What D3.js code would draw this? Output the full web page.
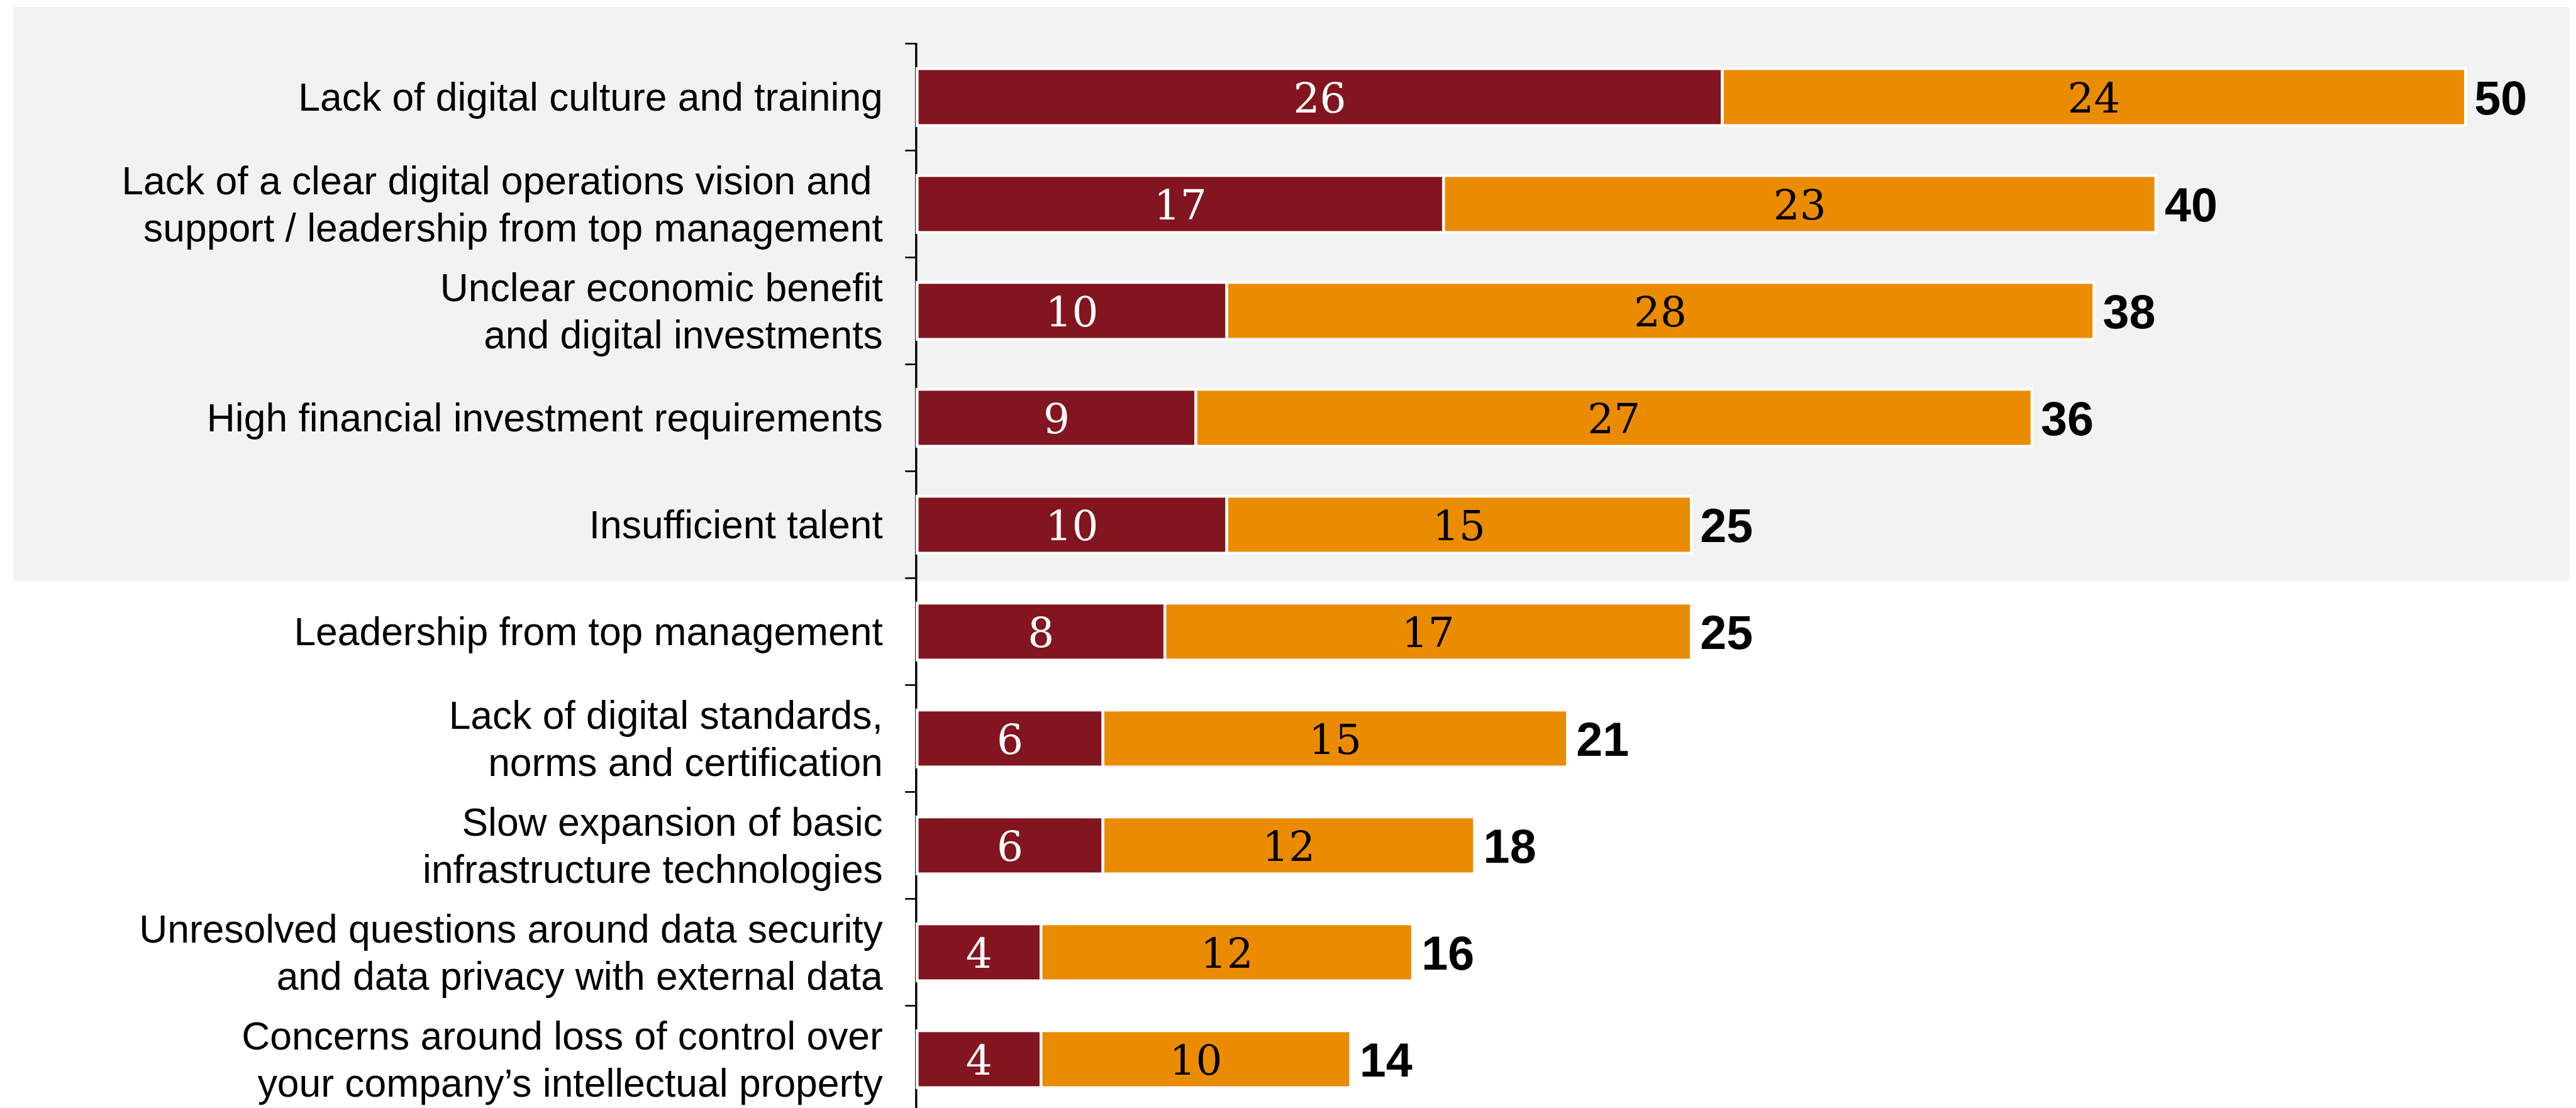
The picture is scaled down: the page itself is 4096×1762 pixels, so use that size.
<!DOCTYPE html>
<html>
<head>
<meta charset="utf-8">
<script src="https://cdn.jsdelivr.net/npm/d3@7"></script>
<style>
  html, body { margin: 0; padding: 0; background: #fff; }
  svg { display: block; }
</style>
</head>
<body>
<div id="chart"></div>
<script>
// Barriers to digital operations - stacked horizontal bars

const categories = [
  ['Lack of digital culture and training'],
  ['Lack of a clear digital operations vision and ', 'support / leadership from top management'],
  ['Unclear economic benefit', 'and digital investments'],
  ['High financial investment requirements'],
  ['Insufficient talent'],
  ['Leadership from top management'],
  ['Lack of digital standards,', 'norms and certification'],
  ['Slow expansion of basic', 'infrastructure technologies'],
  ['Unresolved questions around data security', 'and data privacy with external data'],
  ['Concerns around loss of control over', 'your company\u2019s intellectual property']
];
const seriesA = [26, 17, 10, 9, 10, 8, 6, 6, 4, 4];
const seriesB = [24, 23, 28, 27, 15, 17, 15, 12, 12, 10];
const totals = [50, 40, 38, 36, 25, 25, 21, 18, 16, 14];
const highlighted = 5; // first five rows sit on the grey panel

const W = 4096, H = 1762;
const colorA = '#82151f';
const colorB = '#eb8c00';

const svg = d3.select('#chart')
  .append('svg')
  .attr('width', W)
  .attr('height', H)
  .attr('viewBox', `0 0 ${W} ${H}`);

const keys = categories.map((d, i) => i);

const x = d3.scaleLinear()
  .domain([0, 50])
  .range([1458.3, 3920.3]);

const y = d3.scaleBand()
  .domain(keys)
  .range([69.4, 1769.4])
  .paddingInner(0.467)
  .paddingOuter(0.2335);

const step = y.step();
const gapHalf = (step - y.bandwidth()) / 2;
const bandTop = i => y(i) - gapHalf;

// grey panel behind the top rows
svg.append('rect')
  .attr('x', 21)
  .attr('y', 11)
  .attr('width', 4064)
  .attr('height', bandTop(highlighted) + 4 - 11)
  .attr('fill', '#f2f2f2');

// axis line + ticks at band edges
const axisX = x(0) - 1.5;
svg.append('line')
  .attr('x1', axisX).attr('x2', axisX)
  .attr('y1', bandTop(0) - 1.2).attr('y2', H)
  .attr('stroke', '#000')
  .attr('stroke-width', 3.4);

svg.selectAll('.tick')
  .data(keys)
  .enter()
  .append('line')
  .attr('class', 'tick')
  .attr('x1', axisX - 17.6).attr('x2', axisX)
  .attr('y1', d => bandTop(d)).attr('y2', d => bandTop(d))
  .attr('stroke', '#000')
  .attr('stroke-width', 2.6);

// stacked segments
const rows = keys.map(i => ({ i, a: seriesA[i], b: seriesB[i], total: totals[i] }));

svg.selectAll('.segA')
  .data(rows)
  .enter()
  .append('rect')
  .attr('class', 'segA')
  .attr('x', d => x(0))
  .attr('y', d => y(d.i))
  .attr('width', d => x(d.a) - x(0))
  .attr('height', y.bandwidth())
  .attr('fill', colorA)
  .attr('stroke', '#fff')
  .attr('stroke-width', 4.5);

svg.selectAll('.segB')
  .data(rows)
  .enter()
  .append('rect')
  .attr('class', 'segB')
  .attr('x', d => x(d.a))
  .attr('y', d => y(d.i))
  .attr('width', d => x(d.a + d.b) - x(d.a))
  .attr('height', y.bandwidth())
  .attr('fill', colorB)
  .attr('stroke', '#fff')
  .attr('stroke-width', 4.5);

// segment value labels
const segFont = "'DejaVu Serif', Georgia, serif";
svg.selectAll('.labA')
  .data(rows)
  .enter()
  .append('text')
  .attr('class', 'labA')
  .attr('x', d => (x(0) + x(d.a)) / 2)
  .attr('y', d => y(d.i) + y.bandwidth() / 2)
  .attr('dy', '0.37em')
  .attr('text-anchor', 'middle')
  .style('font-family', segFont)
  .style('font-size', '66px')
  .style('fill', '#fff')
  .text(d => d.a);

svg.selectAll('.labB')
  .data(rows)
  .enter()
  .append('text')
  .attr('class', 'labB')
  .attr('x', d => (x(d.a) + x(d.a + d.b)) / 2)
  .attr('y', d => y(d.i) + y.bandwidth() / 2)
  .attr('dy', '0.37em')
  .attr('text-anchor', 'middle')
  .style('font-family', segFont)
  .style('font-size', '66px')
  .style('fill', '#000')
  .text(d => d.b);

// totals at bar ends
svg.selectAll('.total')
  .data(rows)
  .enter()
  .append('text')
  .attr('class', 'total')
  .attr('x', d => x(d.total) + 14)
  .attr('y', d => y(d.i) + y.bandwidth() / 2)
  .attr('dy', '0.36em')
  .style('font-family', "'Liberation Sans', Arial, sans-serif")
  .style('font-size', '75.6px')
  .style('font-weight', 'bold')
  .style('fill', '#000')
  .text(d => d.total);

// category labels (one or two lines)
const lineH = 74.7;
const catLabels = svg.selectAll('.cat')
  .data(keys)
  .enter()
  .append('text')
  .attr('class', 'cat')
  .attr('text-anchor', 'end')
  .style('font-family', "'Liberation Sans', Arial, sans-serif")
  .style('font-size', '62.4px')
  .style('fill', '#000')
  .attr('transform', d => `translate(1403.8,${y(d) + y.bandwidth() / 2})`);

catLabels.each(function(d) {
  const lines = categories[d];
  const t = d3.select(this);
  lines.forEach((line, j) => {
    t.append('tspan')
      .attr('x', 0)
      .attr('y', (j - (lines.length - 1) / 2) * lineH)
      .attr('dy', '0.35em')
      .style('white-space', 'pre')
      .text(line);
  });
});
</script>
</body>
</html>
